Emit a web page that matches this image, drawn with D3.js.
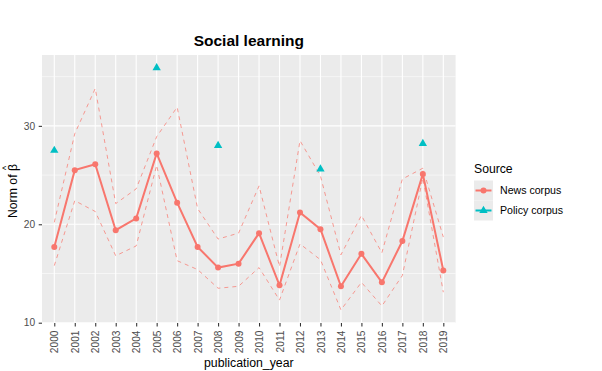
<!DOCTYPE html>
<html>
<head>
<meta charset="utf-8">
<script src="https://cdn.jsdelivr.net/npm/d3@7"></script>
<style>
  body { margin: 0; background: #fff; }
  text { font-family: "Liberation Sans", Arial, sans-serif; }
</style>
</head>
<body>
<div class="canvas"></div>
<script>
// data
const years = d3.range(2000, 2020).map(String);
const newsNorm = [17.7, 25.5, 26.1, 19.4, 20.6, 27.2, 22.2, 17.7, 15.6, 16.0,
  19.1, 13.8, 21.2, 19.5, 13.7, 17.0, 14.1, 18.3, 25.1, 15.3];
const newsUpper = [20.2, 29.2, 33.8, 22.1, 23.6, 28.9, 31.9, 21.6, 18.5, 19.1,
  23.9, 15.7, 28.5, 24.9, 16.9, 20.9, 17.1, 24.6, 25.7, 18.7];
const newsLower = [15.8, 22.4, 21.3, 16.8, 17.8, 26.0, 16.3, 15.4, 13.5, 13.7,
  15.6, 12.3, 18.0, 16.4, 11.3, 14.1, 11.7, 14.8, 24.7, 13.1];
const policyYears = ["2000", "2005", "2008", "2013", "2018"];
const policyNorm = [27.5, 35.9, 28.0, 25.6, 28.2];
const yTicks = [10, 20, 30];
const yMinor = [15, 25, 35];
const sources = ["News corpus", "Policy corpus"];

const colors = { news: "#F8766D", policy: "#00BFC4" };

// layout
const chartSet = { width: 602, height: 371 };
const panel = { left: 42, right: 455.6, top: 55, bottom: 323 };

const svg = d3.select(".canvas").append("svg")
  .attr("width", chartSet.width)
  .attr("height", chartSet.height);

const x = d3.scalePoint()
  .domain(years)
  .range([panel.left, panel.right])
  .padding(0.6);

const y = d3.scaleLinear()
  .domain([9.97, 37.2])
  .range([panel.bottom, panel.top]);

// panel bg
svg.append("rect")
  .attr("x", panel.left).attr("y", panel.top)
  .attr("width", panel.right - panel.left)
  .attr("height", panel.bottom - panel.top)
  .attr("fill", "#EBEBEB");

const grid = svg.append("g");
grid.selectAll(".minor").data(yMinor).join("line")
  .attr("x1", panel.left).attr("x2", panel.right)
  .attr("y1", d => y(d)).attr("y2", d => y(d))
  .attr("stroke", "#fff").attr("stroke-width", 0.55);
grid.selectAll(".majorY").data(yTicks).join("line")
  .attr("x1", panel.left).attr("x2", panel.right)
  .attr("y1", d => y(d)).attr("y2", d => y(d))
  .attr("stroke", "#fff").attr("stroke-width", 1.1);
grid.selectAll(".majorX").data(years).join("line")
  .attr("x1", d => x(d)).attr("x2", d => x(d))
  .attr("y1", panel.top).attr("y2", panel.bottom)
  .attr("stroke", "#fff").attr("stroke-width", 1.1);

// axes
const yAxis = svg.append("g")
  .attr("transform", `translate(${panel.left},0)`)
  .call(d3.axisLeft(y).tickValues(yTicks).tickSize(3.3).tickPadding(3.6));
const xAxis = svg.append("g")
  .attr("transform", `translate(0,${panel.bottom})`)
  .call(d3.axisBottom(x).tickSize(3.5).tickPadding(2));
[xAxis, yAxis].forEach(a => {
  a.select(".domain").remove();
  a.selectAll("line").attr("stroke", "#333").attr("stroke-width", 1.07);
  a.selectAll("text").attr("fill", "#4D4D4D").style("font-size", "10.2px");
});
xAxis.selectAll("text")
  .attr("transform", "rotate(-90)")
  .attr("text-anchor", "end")
  .attr("dy", "0.35em")
  .attr("x", -7.5)
  .attr("y", 0);

// lines
const line = d3.line()
  .x((d, i) => x(years[i]))
  .y(d => y(d));

[newsUpper, newsLower].forEach(arr => {
  svg.append("path")
    .attr("d", line(arr))
    .attr("fill", "none")
    .attr("stroke", colors.news)
    .attr("stroke-opacity", 0.8)
    .attr("stroke-width", 0.9)
    .attr("stroke-dasharray", "4,4");
});

svg.append("path")
  .attr("d", line(newsNorm))
  .attr("fill", "none")
  .attr("stroke", colors.news)
  .attr("stroke-width", 2);

svg.append("g").selectAll("circle").data(newsNorm).join("circle")
  .attr("cx", (d, i) => x(years[i]))
  .attr("cy", d => y(d))
  .attr("r", 3)
  .attr("fill", colors.news);

const tri = d3.symbol().type(d3.symbolTriangle).size(30);
svg.append("g").selectAll("path").data(policyNorm).join("path")
  .attr("transform", (d, i) => `translate(${x(policyYears[i])},${y(d)})`)
  .attr("d", tri)
  .attr("fill", colors.policy);

// titles
svg.append("text")
  .attr("x", (panel.left + panel.right) / 2)
  .attr("y", 46)
  .attr("text-anchor", "middle")
  .style("font-size", "15.5px")
  .style("font-weight", "bold")
  .attr("fill", "#000")
  .text("Social learning");

svg.append("text")
  .attr("x", (panel.left + panel.right) / 2)
  .attr("y", 367)
  .attr("text-anchor", "middle")
  .style("font-size", "12.3px")
  .attr("fill", "#000")
  .text("publication_year");

// y title with hat over beta
const yTitle = svg.append("text")
  .attr("transform", `translate(17,${(panel.top + panel.bottom) / 2 + 2}) rotate(-90)`)
  .attr("text-anchor", "middle")
  .style("font-size", "12.3px")
  .attr("fill", "#000");
yTitle.append("tspan").text("Norm of \u03B2");
yTitle.append("tspan")
  .attr("dx", -6.2).attr("dy", -8)
  .style("font-size", "8.5px")
  .text("^");

// legend
const legendGroup = svg.append("g").attr("transform", "translate(474,0)");
legendGroup.append("text")
  .attr("x", 0).attr("y", 173)
  .style("font-size", "12.2px")
  .attr("fill", "#000")
  .text("Source");

sources.forEach((s, i) => {
  const cy = 190.5 + i * 20;
  const c = i === 0 ? colors.news : colors.policy;
  legendGroup.append("rect")
    .attr("x", 0).attr("y", cy - 10)
    .attr("width", 19).attr("height", 20)
    .attr("fill", "#EBEBEB");
  legendGroup.append("line")
    .attr("x1", 1.5).attr("x2", 17.5)
    .attr("y1", cy).attr("y2", cy)
    .attr("stroke", c).attr("stroke-width", 2);
  if (i === 0) {
    legendGroup.append("circle").attr("cx", 9.5).attr("cy", cy).attr("r", 3).attr("fill", c);
  } else {
    legendGroup.append("path")
      .attr("transform", `translate(9.5,${cy})`)
      .attr("d", tri).attr("fill", c);
  }
  legendGroup.append("text")
    .attr("x", 26).attr("y", cy)
    .attr("dy", "0.35em")
    .style("font-size", "10.6px")
    .attr("fill", "#000")
    .text(s);
});
</script>
</body>
</html>
